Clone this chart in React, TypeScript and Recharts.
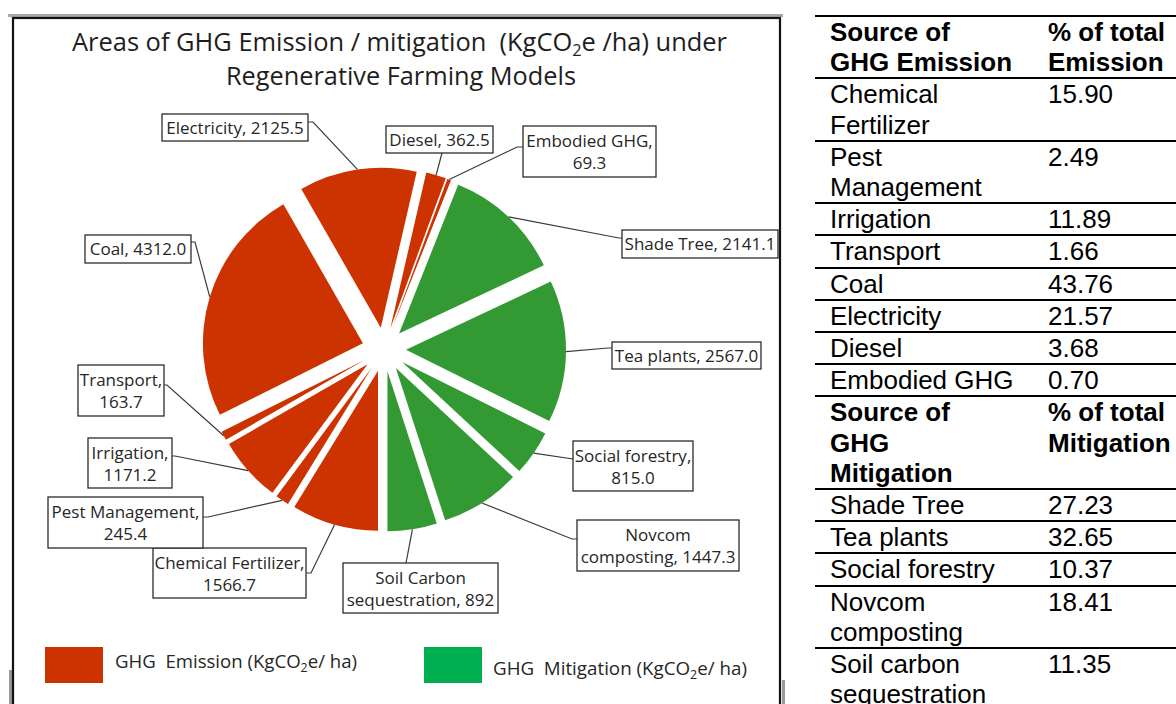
import React from 'react';
import { PieChart, Pie, Sector } from 'recharts';

// ---------- DATA ----------
const categories = [
  'Chemical Fertilizer', 'Pest Management', 'Irrigation', 'Transport', 'Coal', 'Electricity',
  'Diesel', 'Embodied GHG', 'Shade Tree', 'Tea plants', 'Social forestry', 'Novcom composting',
  'Soil Carbon sequestration',
];
const values = [1566.7, 245.4, 1171.2, 163.7, 4312.0, 2125.5, 362.5, 69.3, 2141.1, 2567.0, 815.0, 1447.3, 892];
const valueLabels = ['1566.7', '245.4', '1171.2', '163.7', '4312.0', '2125.5', '362.5', '69.3', '2141.1', '2567.0', '815.0', '1447.3', '892'];
const groups = ['Emission', 'Emission', 'Emission', 'Emission', 'Emission', 'Emission', 'Emission', 'Emission',
  'Mitigation', 'Mitigation', 'Mitigation', 'Mitigation', 'Mitigation'];

const emissionSources = ['Chemical\nFertilizer', 'Pest\nManagement', 'Irrigation', 'Transport', 'Coal', 'Electricity', 'Diesel', 'Embodied GHG'];
const emissionPct = ['15.90', '2.49', '11.89', '1.66', '43.76', '21.57', '3.68', '0.70'];
const mitigationSources = ['Shade Tree', 'Tea plants', 'Social forestry', 'Novcom\ncomposting', 'Soil carbon\nsequestration'];
const mitigationPct = ['27.23', '32.65', '10.37', '18.41', '11.35'];

const pieData = categories.map((name, i) => ({ name, value: values[i], label: valueLabels[i], group: groups[i] }));

// ---------- STYLE / LAYOUT ----------
const RED = '#CC3300';
const GREEN = '#339933';
const LEGEND_RED = '#CC3300';
const LEGEND_GREEN = '#00B050';
const FONT = '"Open Sans", "Noto Sans", sans-serif';
const PIE_CX = 384;
const PIE_CY = 349.5;
const PIE_R = 160;
const EXPLODE = 22;
const RAD = Math.PI / 180;

// callout boxes (chart coordinates), anchor point on the box, short tick, word index where text wraps
const LABEL_LAYOUT = [
  { x: 153, y: 548, w: 153, h: 50, ax: 306, ay: 573, tick: 5, brk: 2 },
  { x: 48, y: 497, w: 155, h: 51, ax: 203, ay: 517, tick: 5, brk: 2 },
  { x: 88, y: 438, w: 84, h: 50, ax: 172, ay: 456, tick: 3, brk: 1 },
  { x: 78, y: 365, w: 86, h: 51, ax: 164, ay: 385, tick: 3, brk: 1 },
  { x: 85, y: 235, w: 106, h: 28, ax: 191, ay: 242, tick: 4, brk: 0 },
  { x: 162, y: 114, w: 146, h: 27, ax: 308, ay: 122, tick: 5, brk: 0 },
  { x: 386, y: 126, w: 107, h: 27, ax: 442, ay: 153, tick: 0, brk: 0 },
  { x: 523, y: 126, w: 133, h: 51, ax: 523, ay: 147, tick: -6, brk: 2 },
  { x: 622, y: 230, w: 156, h: 28, ax: 622, ay: 238, tick: -3, brk: 0 },
  { x: 612, y: 342, w: 149, h: 27, ax: 612, ay: 348, tick: -4, brk: 0 },
  { x: 573, y: 441, w: 120, h: 50, ax: 573, ay: 459, tick: 0, brk: 2 },
  { x: 577, y: 520, w: 162, h: 51, ax: 577, ay: 539, tick: -5, brk: 1 },
  { x: 343, y: 563, w: 155, h: 50, ax: 406, ay: 563, tick: 0, brk: 2 },
];

const renderSlice = (props: any) => {
  const { cx, cy, outerRadius, startAngle, endAngle, midAngle, index, payload } = props;
  const dx = Math.cos(-midAngle * RAD);
  const dy = Math.sin(-midAngle * RAD);
  const ox = cx + EXPLODE * dx;
  const oy = cy + EXPLODE * dy;
  const px = ox + outerRadius * dx;
  const py = oy + outerRadius * dy;
  const grp = (payload && payload.group) || groups[index];
  const color = grp === 'Emission' ? RED : GREEN;
  const L = LABEL_LAYOUT[index];
  const sx = cx - PIE_CX;
  const sy = cy - PIE_CY;
  const bx = L.x + sx;
  const by = L.y + sy;
  const ax = L.ax + sx;
  const ay = L.ay + sy;
  const words = `${categories[index]}, ${valueLabels[index]}`.split(' ');
  const lines = L.brk > 0 ? [words.slice(0, L.brk).join(' '), words.slice(L.brk).join(' ')] : [words.join(' ')];
  const tx = bx + L.w / 2;
  return (
    <g key={`slice-${index}`}>
      <Sector cx={ox} cy={oy} innerRadius={0} outerRadius={outerRadius} startAngle={startAngle} endAngle={endAngle} fill={color} stroke="none" />
      <path d={`M${ax},${ay} H${ax + L.tick} L${px},${py}`} stroke="#3a3a3a" strokeWidth={1.2} fill="none" />
      <rect x={bx} y={by} width={L.w} height={L.h} fill="#fff" stroke="#2b2b2b" strokeWidth={1.3} />
      {lines.length === 1 ? (
        <text x={tx} y={by + L.h / 2 + 6} textAnchor="middle" fontFamily={FONT} fontSize={17} fill="#262626">{lines[0]}</text>
      ) : (
        <text textAnchor="middle" fontFamily={FONT} fontSize={17} fill="#262626">
          <tspan x={tx} y={by + 21}>{lines[0]}</tspan>
          <tspan x={tx} y={by + 43}>{lines[1]}</tspan>
        </text>
      )}
    </g>
  );
};

const cellStyle1: React.CSSProperties = { width: 218, paddingLeft: 15, boxSizing: 'border-box', whiteSpace: 'pre-line', flex: 'none' };
const cellStyle2: React.CSSProperties = { paddingLeft: 15, whiteSpace: 'pre-line', flex: 'none', width: 220, boxSizing: 'border-box' };

const Row = ({ a, b, bold }: { a: string; b: string; bold?: boolean }) => (
  <div style={{ display: 'flex', borderTop: '2px solid #000', fontWeight: bold ? 'bold' : 'normal' }}>
    <div style={cellStyle1}>{a}</div>
    <div style={cellStyle2}>{b}</div>
  </div>
);

export default function App() {
  return (
    <div style={{ position: 'absolute', left: 0, top: 0, width: 1176, height: 704, overflow: 'hidden', background: '#fff' }}>
      <svg width={790} height={704} style={{ position: 'absolute', left: 0, top: 0 }}>
        <rect x={8} y={14} width={775} height={3} fill="#a8a8a8" />
        <rect x={9} y={670} width={3} height={40} fill="#9a9a9a" />
        <rect x={782} y={680} width={3} height={30} fill="#9a9a9a" />
        <rect x={13} y={18} width={767} height={700} fill="none" stroke="#111" strokeWidth={2.2} />
        <text x={72} y={51} fontFamily={FONT} fontSize={25} fill="#1e1e1e" textLength={655} lengthAdjust="spacingAndGlyphs" style={{ whiteSpace: 'pre' }}>
          Areas of GHG Emission / mitigation  (KgCO<tspan fontSize={16} dy={5}>2</tspan><tspan dy={-5}>e /ha) under</tspan>
        </text>
        <text x={226} y={85} fontFamily={FONT} fontSize={25} fill="#1e1e1e" textLength={350} lengthAdjust="spacingAndGlyphs">
          Regenerative Farming Models
        </text>
        <rect x={45} y={647} width={58} height={36} fill={LEGEND_RED} />
        <text x={115} y={668} fontFamily={FONT} fontSize={18} fill="#262626" textLength={242} lengthAdjust="spacingAndGlyphs" style={{ whiteSpace: 'pre' }}>
          GHG  Emission (KgCO<tspan fontSize={12} dy={4}>2</tspan><tspan dy={-4}>e/ ha)</tspan>
        </text>
        <rect x={424} y={647} width={58} height={36} fill={LEGEND_GREEN} />
        <text x={493} y={675} fontFamily={FONT} fontSize={18} fill="#262626" textLength={254} lengthAdjust="spacingAndGlyphs" style={{ whiteSpace: 'pre' }}>
          GHG  Mitigation (KgCO<tspan fontSize={12} dy={4}>2</tspan><tspan dy={-4}>e/ ha)</tspan>
        </text>
      </svg>
      <div style={{ position: 'absolute', left: 0, top: 0 }}>
        <PieChart width={790} height={704} margin={{ top: 0, right: 0, bottom: 0, left: 0 }}>
          <Pie
            data={pieData}
            dataKey="value"
            nameKey="name"
            cx={PIE_CX}
            cy={PIE_CY}
            innerRadius={0}
            outerRadius={PIE_R}
            startAngle={-90}
            endAngle={-450}
            fill="none"
            stroke="none"
            label={renderSlice}
            labelLine={false}
            isAnimationActive={false}
          />
        </PieChart>
      </div>
      <div style={{ position: 'absolute', left: 815, top: 15, width: 440, fontFamily: '"Liberation Sans", Arial, sans-serif', fontSize: 26, lineHeight: '30.2px', color: '#000' }}>
        <Row a={'Source of\nGHG Emission'} b={'% of total\nEmission'} bold />
        {emissionSources.map((s, i) => <Row key={`e${i}`} a={s} b={emissionPct[i]} />)}
        <Row a={'Source of\nGHG\nMitigation'} b={'% of total\nMitigation'} bold />
        {mitigationSources.map((s, i) => <Row key={`m${i}`} a={s} b={mitigationPct[i]} />)}
      </div>
    </div>
  );
}
